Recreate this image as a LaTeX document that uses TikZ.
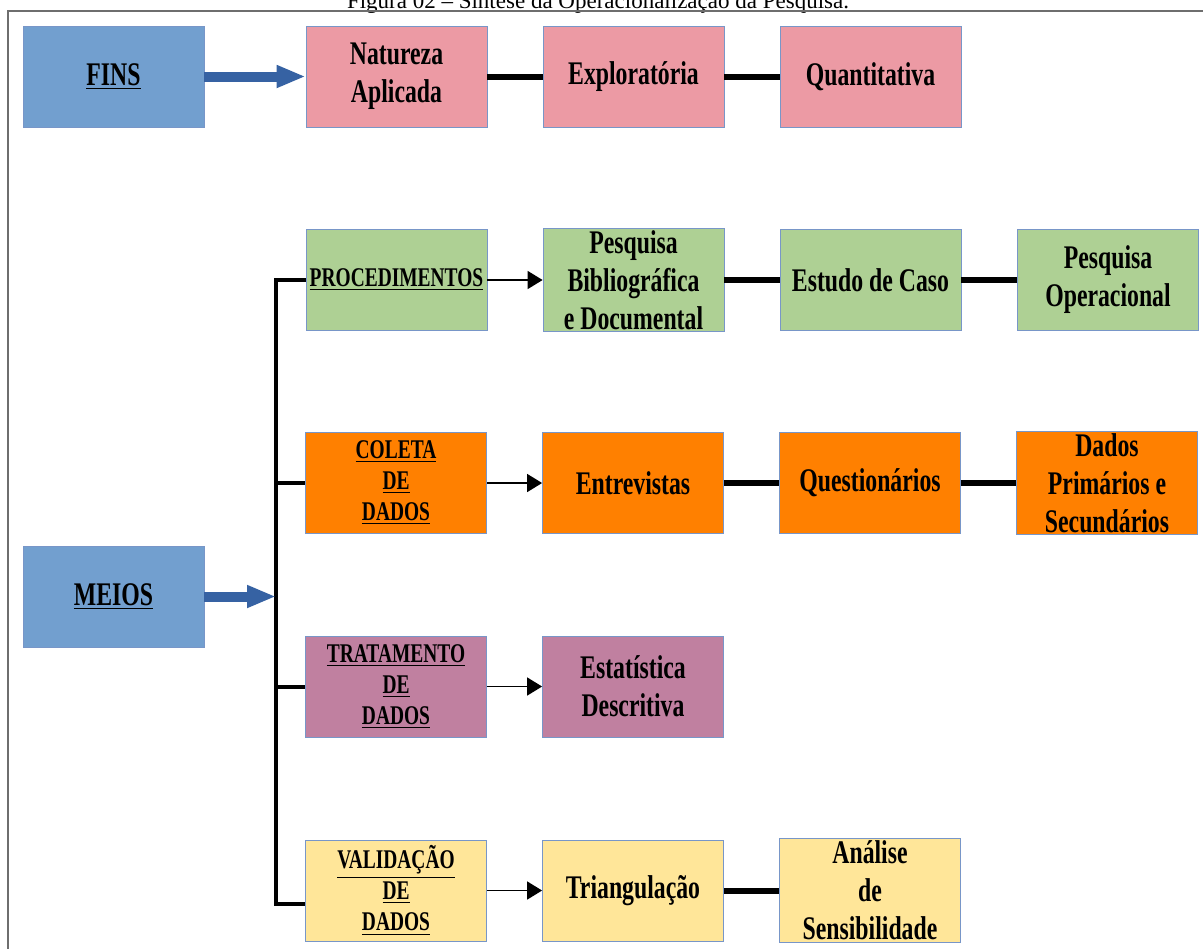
\documentclass[tikz,border=0pt]{standalone}
\usepackage{fontspec}
\setmainfont{Liberation Serif}
\newfontfamily\narrowfont{Liberation Serif}[FakeStretch=0.72]
\usetikzlibrary{arrows.meta}
\definecolor{FinsColor}{RGB}{114,159,207}
\definecolor{ArrowColor}{RGB}{54,98,163}
\definecolor{NaturezaColor}{RGB}{236,154,164}
\definecolor{ProcColor}{RGB}{174,208,148}
\definecolor{ColetaColor}{RGB}{255,128,0}
\definecolor{TratColor}{RGB}{192,128,160}
\definecolor{ValidColor}{RGB}{255,230,153}
\definecolor{EdgeColor}{RGB}{120,150,200}
\definecolor{FrameColor}{RGB}{110,110,110}
\tikzstyle{box} = [rectangle, draw=EdgeColor, line width=0.4pt, minimum width=90.5pt, minimum height=50.5pt, align=center, inner sep=1pt, font=\narrowfont\bfseries\fontsize{16.5}{19}\selectfont]
\tikzstyle{headbox} = [box, font=\narrowfont\bfseries\fontsize{13.5}{15.5}\selectfont]
\tikzset{
  fat arrow/.style={ArrowColor, line width=5pt, -{Triangle[length=14.5pt, width=10.5pt]}},
  thin arrow/.style={black, line width=0.75pt, -{Triangle[length=7.5pt, width=9pt]}},
  link/.style={black, line width=3pt},
  bus/.style={black, line width=2pt},
  frame/.style={FrameColor, line width=1pt}
}

\begin{document}
\begin{tikzpicture}[x=0.5pt, y=-0.5pt]
  \useasboundingbox (0,0) rectangle (1203,949);
  % Title and frame
  \node[anchor=base, font=\fontsize{11.5}{13}\selectfont] (title) at (598,8) {Figura 02 -- Síntese da Operacionalização da Pesquisa.};
  \draw[frame] (1203,11) -- (8,11) -- (8,949);

  % Fins
  \node[box, fill=FinsColor] (fins) at (113.5,76.5) {\underline{FINS}};
  \node[box, fill=NaturezaColor] (natureza) at (396.5,76.5) {Natureza\\Aplicada};
  \node[box, fill=NaturezaColor] (explor) at (633.5,76.5) {Exploratória};
  \node[box, fill=NaturezaColor] (quanti) at (870.5,76.5) {Quantitativa};

  % Meios
  \node[box, fill=FinsColor] (meios) at (113.5,596.5) {\underline{MEIOS}};

  % Procedimentos
  \node[headbox, fill=ProcColor] (proc) at (396.5,280) {\underline{PROCEDIMENTOS}};
  \node[box, fill=ProcColor] (biblio) at (633.5,280) {Pesquisa\\Bibliográfica\\e Documental};
  \node[box, fill=ProcColor] (caso) at (870.5,280) {Estudo de Caso};
  \node[box, fill=ProcColor] (operac) at (1108,280) {Pesquisa\\Operacional};

  % Coleta de dados
  \node[headbox, fill=ColetaColor] (coleta) at (396,483) {\underline{COLETA}\\\underline{DE}\\\underline{DADOS}};
  \node[box, fill=ColetaColor] (entrev) at (633,483) {Entrevistas};
  \node[box, fill=ColetaColor] (quest) at (870,483) {Questionários};
  \node[box, fill=ColetaColor] (dados) at (1107,483) {Dados\\Primários e\\Secundários};

  % Tratamento de dados
  \node[headbox, fill=TratColor] (trat) at (396,686.5) {\underline{TRATAMENTO}\\\underline{DE}\\\underline{DADOS}};
  \node[box, fill=TratColor] (estat) at (633,686.5) {Estatística\\Descritiva};

  % Validacao de dados
  \node[headbox, fill=ValidColor] (valid) at (396,890.5) {\underline{VALIDAÇÃO}\\\underline{DE}\\\underline{DADOS}};
  \node[box, fill=ValidColor] (triang) at (633,890.5) {Triangulação};
  \node[box, fill=ValidColor] (sensib) at (870,890.5) {Análise\\de\\Sensibilidade};

  % Bus
  \coordinate (bus top) at (276,280);
  \coordinate (bus bot) at (276,904);
  \draw[bus] (proc.west) -- (bus top) -- (bus bot) -- (bus bot -| valid.west);
  \draw[bus] (bus top |- coleta.west) -- (coleta.west);
  \draw[bus] (bus top |- trat.west) -- (trat.west);

  % Fat arrows
  \draw[fat arrow] (fins) -- (natureza);
  \draw[fat arrow] (meios.east) -- (meios.east -| bus top);

  % Thin arrows
  \draw[thin arrow] (proc) -- (biblio);
  \draw[thin arrow] (coleta) -- (entrev);
  \draw[thin arrow] (trat) -- (estat);
  \draw[thin arrow] (valid) -- (triang);

  % Links
  \draw[link] (natureza) -- (explor);
  \draw[link] (explor) -- (quanti);
  \draw[link] (biblio) -- (caso);
  \draw[link] (caso) -- (operac);
  \draw[link] (entrev) -- (quest);
  \draw[link] (quest) -- (dados);
  \draw[link] (triang) -- (sensib);
\end{tikzpicture}
\end{document}
